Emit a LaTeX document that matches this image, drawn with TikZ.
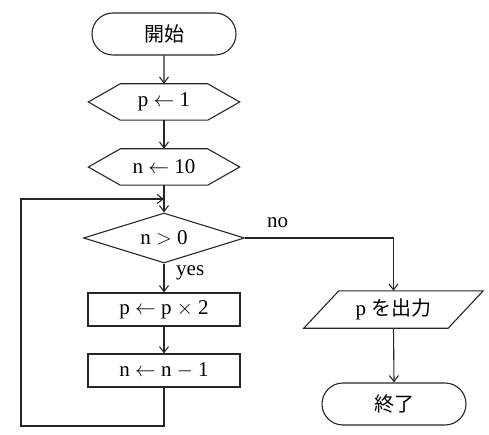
\documentclass[tikz,border=0pt]{standalone}
\usepackage{fontspec}
\setmainfont{Liberation Serif}
\newfontfamily\jp{Noto Sans CJK JP}
\usetikzlibrary{shapes.geometric,shapes.misc,arrows.meta}
\begin{document}
\begin{tikzpicture}[x=1pt,y=-1pt,
  every node/.style={font=\fontsize{21}{21}\selectfont, inner sep=0pt},
  line/.style={draw=black!85, line width=1.1pt},
  arr/.style={line, -{Straight Barb[length=6pt,width=9pt,line width=1.1pt]}},
  term/.style={line, rounded rectangle, minimum width=144pt, minimum height=42pt},
  box/.style={line, rectangle, minimum width=152pt, minimum height=33pt},
  dia/.style={line, diamond, minimum width=161pt, minimum height=50pt, aspect=3.2},
  frame/.style={rectangle, minimum width=#1, minimum height=36pt},
  jpt/.style={font=\fontsize{20}{20}\selectfont\jp},
  lbl/.style={font=\fontsize{21}{21}\selectfont}
]
\useasboundingbox (0,0) rectangle (489,435);
\node[term, jpt] (start) at (164,34) {開始};
\node[frame=151pt] (p1) at (164,102) {p $\leftarrow$ 1};
\node[frame=151pt] (n10) at (164,167) {n $\leftarrow$ 10};
\foreach \h in {p1,n10}{
  \draw[line] ([xshift=32pt]\h.north west) -- ([xshift=-32pt]\h.north east) -- (\h.east)
    -- ([xshift=-32pt]\h.south east) -- ([xshift=32pt]\h.south west) -- (\h.west) -- cycle;
}
\node[dia] (dec) at (164,238) {n $>$ 0};
\node[box] (b1) at (164,309.5) {p $\leftarrow$ p $\times$ 2};
\node[box] (b2) at (164,370.5) {n $\leftarrow$ n $-$ 1};
\node[rectangle, minimum width=144pt, minimum height=37pt] (out) at (393.5,309.5) {p {\fontsize{20}{20}\selectfont\jp を出力}};
\draw[line] ([xshift=17.5pt]out.north west) -- ([xshift=17.5pt]out.north east)
  -- ([xshift=-17.5pt]out.south east) -- ([xshift=-17.5pt]out.south west) -- cycle;
\node[term, jpt] (end) at (394,404) {終了};
\coordinate (j) at (164,199);
\coordinate (lb) at (21,426);
\draw[arr] (start) -- (p1);
\draw[arr] (p1) -- (n10);
\draw[arr] (n10.south) -- (dec.north);
\draw[arr] (b2.south) |- (lb) |- (j);
\draw[arr] (dec.south) -- (b1.north);
\draw[arr] (b1) -- (b2);
\draw[arr] (dec.east) -| (out.north);
\draw[arr] (out.south) -- (end.north);
\node[lbl, anchor=west] (yes) at (176,273) {yes};
\node[lbl, anchor=west] (no) at (267,223) {no};
\end{tikzpicture}
\end{document}
